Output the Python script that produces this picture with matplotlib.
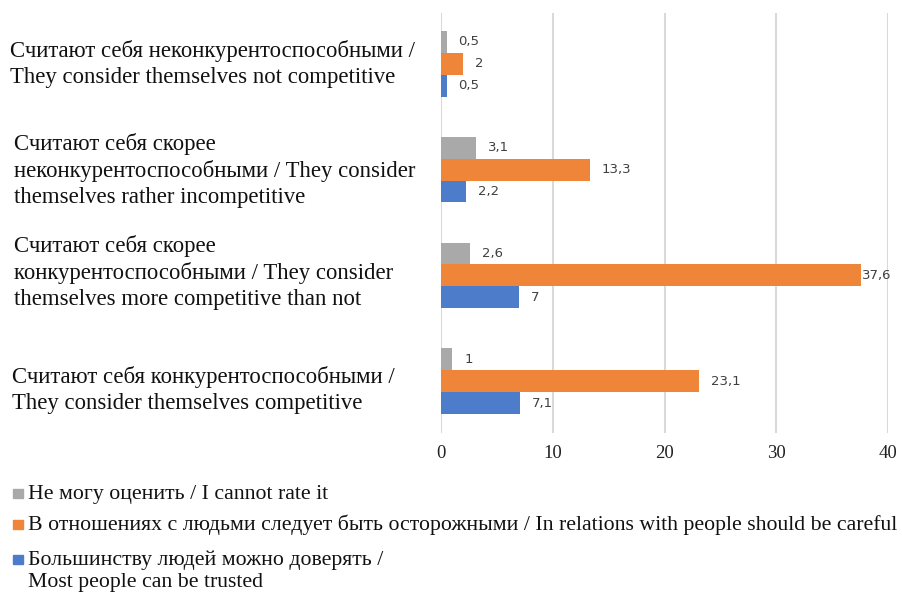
import matplotlib
matplotlib.use("Agg")
import matplotlib.pyplot as plt
from matplotlib.patches import Rectangle
from matplotlib.transforms import blended_transform_factory

categories = [
    "Считают себя неконкурентоспособными /\nThey consider themselves not competitive",
    "Считают себя скорее\nнеконкурентоспособными / They consider\nthemselves rather incompetitive",
    "Считают себя скорее\nконкурентоспособными / They consider\nthemselves more competitive than not",
    "Считают себя конкурентоспособными /\nThey consider themselves competitive",
]
series_names = [
    "Не могу оценить / I cannot rate it",
    "В отношениях с людьми следует быть осторожными / In relations with people should be careful",
    "Большинству людей можно доверять /\nMost people can be trusted",
]
cannot_rate = [0.5, 3.1, 2.6, 1.0]
careful = [2.0, 13.3, 37.6, 23.1]
trusted = [0.5, 2.2, 7.0, 7.1]
value_labels = [
    ["0,5", "3,1", "2,6", "1"],
    ["2", "13,3", "37,6", "23,1"],
    ["0,5", "2,2", "7", "7,1"],
]
xticks = [0, 10, 20, 30, 40]
colors = ["#A9A9A9", "#EE8538", "#4D7CCB"]

serif = "Liberation Serif"

fig = plt.figure(figsize=(9.02, 5.92), dpi=100)
ax = fig.add_axes([441 / 902, 1 - 433 / 592, 447 / 902, 420 / 592])

h = 0.207
series = [cannot_rate, careful, trusted]
offsets = [-h, 0, h]
for s, (vals, off, col) in enumerate(zip(series, offsets, colors)):
    ys = [i + off for i in range(len(categories))]
    ax.barh(ys, vals, height=h, color=col, zorder=3)
    for y, v, lab in zip(ys, vals, value_labels[s]):
        dx = 12 if v < 35 else 1
        ax.annotate(lab, (v, y), xytext=(dx, 0), textcoords="offset pixels",
                    ha="left", va="center", fontsize=9.5, color="#404040",
                    family="DejaVu Sans")

ax.set_xlim(0, 40)
ax.set_ylim(3.49, -0.48)
ax.set_xticks(xticks)
ax.set_xticklabels([str(t) for t in xticks], fontsize=13.5, color="#222222",
                   family=serif)
ax.tick_params(axis="x", length=0, pad=9)
ax.set_yticks([])
for sp in ax.spines.values():
    sp.set_visible(False)
ax.grid(axis="x", color="#D9D9D9", linewidth=1.5, zorder=0)
ax.set_axisbelow(True)

trans = blended_transform_factory(fig.transFigure, ax.transData)
label_x = [10, 14, 14, 12]
label_dy = [0.0, 0.01, -0.03, 0.085]
for i, lab in enumerate(categories):
    ax.text(label_x[i] / 902, i + label_dy[i], lab, transform=trans, ha="left",
            va="center", fontsize=16.4, family=serif, linespacing=1.3,
            color="#111111")

# legend
leg_y = [494, 525, 560]
for name, col, y in zip(series_names, colors, leg_y):
    fig.patches.append(Rectangle((13 / 902, 1 - (y + 4) / 592), 10 / 902, 9 / 592,
                                 transform=fig.transFigure, color=col))
    first = name.split("\n")[0]
    fig.text(28 / 902, 1 - y / 592, first, ha="left", va="center",
             fontsize=15.7, family=serif, color="#111111")
    if "\n" in name:
        fig.text(28 / 902, 1 - (y + 22) / 592, name.split("\n")[1], ha="left",
                 va="center", fontsize=15.7, family=serif, color="#111111")

fig.savefig("out.png", dpi=100)
